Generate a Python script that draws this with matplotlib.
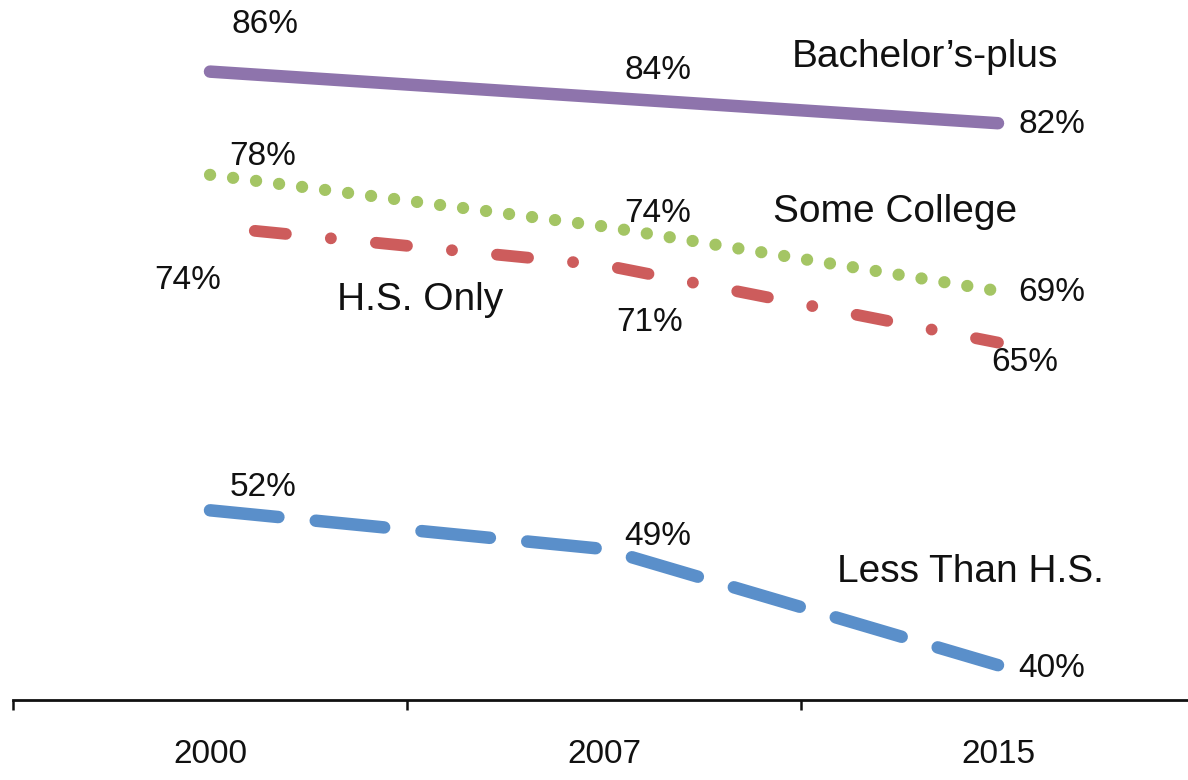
import matplotlib
matplotlib.use("Agg")
import matplotlib.pyplot as plt

# data
years = ["2000", "2007", "2015"]
bachelors_plus = [86, 84, 82]
some_college = [78, 74, 69]
hs_only = [74, 71, 65]
less_than_hs = [52, 49, 40]

series_names = ["Bachelor\u2019s-plus", "Some College", "H.S. Only", "Less Than H.S."]

plt.rcParams["font.family"] = ["Liberation Sans", "DejaVu Sans"]
plt.rcParams["lines.scale_dashes"] = False

PX = 72 / 100  # points per pixel at dpi 100

fig = plt.figure(figsize=(11.88, 7.8), dpi=100)
ax = fig.add_axes([13 / 1188, 80 / 780, 1182 / 1188, 700 / 780])

x = list(range(len(years)))
text_color = "#111111"

# lines
ax.plot(x, bachelors_plus, color="#8e74ac", lw=9,
        solid_capstyle="round", solid_joinstyle="round")
ax.plot(x, some_college, color="#a4c564", lw=8.8,
        linestyle=(0, (0.1, 16.6)), dash_capstyle="round")
ax.plot(x, hs_only, color="#cd5c5c", lw=8.5,
        linestyle=(55.2, (22.5, 32.5, 0.1, 32.5)), dash_capstyle="round")
ax.plot(x, less_than_hs, color="#5a8fca", lw=9,
        linestyle=(0, (49.5, 27)), dash_capstyle="round",
        dash_joinstyle="round")


def label(xi, yi, txt, dx, dy, size=24):
    # dx, dy in pixels relative to the data point (dy positive = down)
    ax.annotate(txt, (xi, yi), xytext=(dx * PX, -dy * PX),
                textcoords="offset points", ha="center", va="center",
                fontsize=size, color=text_color)


# value labels
label(0, bachelors_plus[0], f"{bachelors_plus[0]}%", 55, -47)
label(1, bachelors_plus[1], f"{bachelors_plus[1]}%", 54, -27)
label(2, bachelors_plus[2], f"{bachelors_plus[2]}%", 54, 1)

label(0, some_college[0], f"{some_college[0]}%", 53, -18)
label(1, some_college[1], f"{some_college[1]}%", 54, -13)
label(2, some_college[2], f"{some_college[2]}%", 54, 2)

label(0, hs_only[0], f"{hs_only[0]}%", -22, 54)
label(1, hs_only[1], f"{hs_only[1]}%", 46, 57)
label(2, hs_only[2], f"{hs_only[2]}%", 27, 20)

label(0, less_than_hs[0], f"{less_than_hs[0]}%", 53, -23)
label(1, less_than_hs[1], f"{less_than_hs[1]}%", 54, -13)
label(2, less_than_hs[2], f"{less_than_hs[2]}%", 54, 3)

# series names
label(2, bachelors_plus[2], series_names[0], -73, -66, size=28)
label(2, some_college[2], series_names[1], -103, -79, size=28)
label(0, hs_only[0], series_names[2], 210, 74, size=28)
label(2, less_than_hs[2], series_names[3], -28, -93, size=28)

# axes styling
ax.set_xlim(-0.5, 2.5)
ax.set_ylim(37.3, 91.55)
for side in ["left", "top", "right"]:
    ax.spines[side].set_visible(False)
ax.spines["bottom"].set_linewidth(2)
ax.spines["bottom"].set_color("#111111")
ax.set_yticks([])
ax.set_xticks(x)
ax.set_xticklabels(years, fontsize=24, color=text_color)
ax.tick_params(axis="x", which="major", length=0, pad=28)
ax.set_xticks([-0.5, 0.5, 1.5, 2.5], minor=True)
ax.tick_params(axis="x", which="minor", length=7, width=1.8,
               direction="out", color="#111111")

fig.savefig("out.png", dpi=100)
